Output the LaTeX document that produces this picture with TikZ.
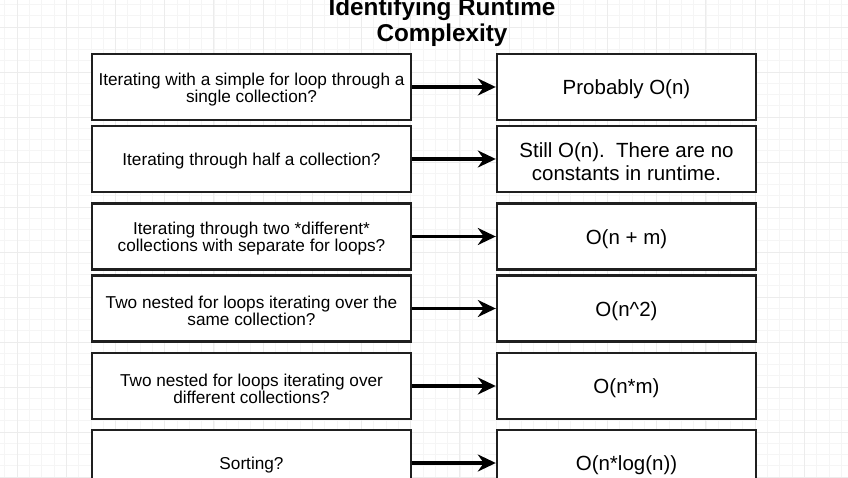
\documentclass[tikz,border=0pt]{standalone}
\usepackage{fontspec}
\setmainfont{Liberation Sans}
\usetikzlibrary{arrows.meta}
\begin{document}
\begin{tikzpicture}[x=1pt,y=-1pt,
  boxbase/.style={draw=black!88, line width=2.4pt, fill=white, minimum height=66pt, inner sep=2pt},
  qtext/.style={align=center, inner sep=0pt, yshift=-2.5pt, font=\fontsize{17.2}{17}\selectfont},
  atext/.style={align=center, inner sep=0pt, yshift=-2.5pt, font=\fontsize{20.5}{22.5}\selectfont},
  qbox/.style={boxbase, minimum width=319pt, label={[qtext]center:{#1}}},
  abox/.style={boxbase, minimum width=259pt, label={[atext]center:{#1}}},
  arr/.style={line width=3.5pt, -{Stealth[length=18pt,width=17pt,inset=6pt]}},
  gminor/.style={draw=black!4, line width=0.6pt},
  gmajor/.style={draw=black!7.5, line width=0.8pt}]
\useasboundingbox (0,0) rectangle (848,478);
\fill[white] (0,0) rectangle (848,478);
% grid
\foreach \i in {0,...,69} \draw[gminor] (4.7+12.3*\i,0) -- (4.7+12.3*\i,478);
\foreach \j in {0,...,42} \draw[gminor] (0,4.5+11.25*\j) -- (848,4.5+11.25*\j);
\foreach \i in {0,...,17} \draw[gmajor] (17+49.2*\i,0) -- (17+49.2*\i,478);
\foreach \j in {0,...,10} \draw[gmajor] (0,27+45*\j) -- (848,27+45*\j);
% title
\node[font=\bfseries\fontsize{24.3}{26}\selectfont, align=center] (title) at (442,22.5) {Identifying Runtime\\Complexity};
% questions
\node[qbox={Iterating with a simple for loop through a\\single collection?}] (q1) at (251.5,87) {};
\node[qbox={Iterating through half a collection?}] (q2) at (251.5,159) {};
\node[qbox={Iterating through two *different*\\collections with separate for loops?}] (q3) at (251.5,236.5) {};
\node[qbox={Two nested for loops iterating over the\\same collection?}] (q4) at (251.5,308.5) {};
\node[qbox={Two nested for loops iterating over\\different collections?}] (q5) at (251.5,386) {};
\node[qbox={Sorting?}] (q6) at (251.5,463) {};
% answers
\node[abox={Probably O(n)}] (a1) at (626.5,87) {};
\node[abox={Still O(n).\ \ There are no\\constants in runtime.}] (a2) at (626.5,159) {};
\node[abox={O(n + m)}] (a3) at (626.5,236.5) {};
\node[abox={O(n\^{}2)}] (a4) at (626.5,308.5) {};
\node[abox={O(n*m)}] (a5) at (626.5,386) {};
\node[abox={O(n*log(n))}] (a6) at (626.5,463) {};
% arrows
\foreach \k in {1,...,6} \draw[arr] (q\k) -- (a\k);
\end{tikzpicture}
\end{document}
